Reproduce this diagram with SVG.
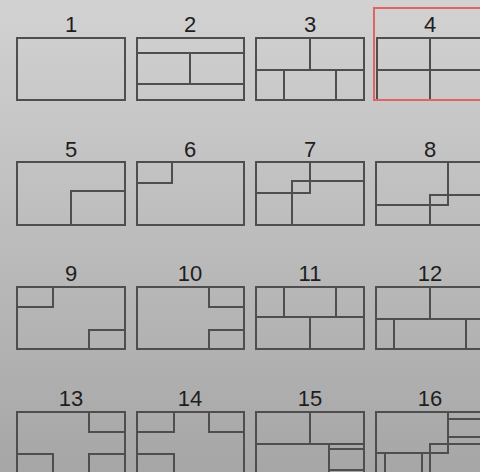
<svg xmlns="http://www.w3.org/2000/svg" width="480" height="472" viewBox="0 0 480 472">
<defs>
<linearGradient id="bg" x1="0" y1="0" x2="0" y2="1">
<stop offset="0" stop-color="#d2d2d2"/>
<stop offset="1" stop-color="#a6a6a6"/>
</linearGradient>
</defs>
<style>
.b{fill:none;stroke:#4e4e4e;stroke-width:2}
.l{fill:none;stroke:#4e4e4e;stroke-width:2}
.t{font-family:"Liberation Sans",Arial,sans-serif;font-size:22px;fill:#1e1e1e;text-anchor:middle}
.sel{fill:none;stroke:#e06464;stroke-width:2}
</style>
<rect width="480" height="472" fill="url(#bg)"/>
<g id="layout-1">
<text class="t" x="71" y="32">1</text>
<rect class="b" x="17" y="38" width="108" height="62"/>
</g>
<g id="layout-2">
<text class="t" x="190" y="32">2</text>
<rect class="b" x="137" y="38" width="107" height="62"/>
<path class="l" d="M137 53H244M137 84H244M190 53V84"/>
</g>
<g id="layout-3">
<text class="t" x="310" y="32">3</text>
<rect class="b" x="256" y="38" width="108" height="62"/>
<path class="l" d="M256 70H364M310 38V70M284 70V100M336 70V100"/>
</g>
<g id="layout-4">
<rect class="sel" x="374" y="8" width="112" height="92"/>
<text class="t" x="430" y="32">4</text>
<rect class="b" x="377" y="38" width="108" height="62"/>
<path class="l" d="M377 70H485M430 38V100"/>
<path class="sel" d="M374 100H486"/>
</g>
<g id="layout-5">
<text class="t" x="71" y="157">5</text>
<rect class="b" x="17" y="162" width="108" height="63"/>
<path class="l" d="M71 225V191H125"/>
</g>
<g id="layout-6">
<text class="t" x="190" y="157">6</text>
<rect class="b" x="137" y="162" width="107" height="63"/>
<path class="l" d="M172 162V183H137"/>
</g>
<g id="layout-7">
<text class="t" x="310" y="157">7</text>
<rect class="b" x="256" y="162" width="108" height="63"/>
<path class="l" d="M310 162V193H256M292 225V181H364"/>
</g>
<g id="layout-8">
<text class="t" x="430" y="157">8</text>
<rect class="b" x="376" y="162" width="108" height="63"/>
<path class="l" d="M448 162V205H376M430 225V195H484"/>
</g>
<g id="layout-9">
<text class="t" x="71" y="281">9</text>
<rect class="b" x="17" y="287" width="108" height="62"/>
<path class="l" d="M53 287V307H17M89 349V330H125"/>
</g>
<g id="layout-10">
<text class="t" x="190" y="281">10</text>
<rect class="b" x="137" y="287" width="107" height="62"/>
<path class="l" d="M209 287V307H244M209 349V330H244"/>
</g>
<g id="layout-11">
<text class="t" x="310" y="281">11</text>
<rect class="b" x="256" y="287" width="108" height="62"/>
<path class="l" d="M256 317H364M284 287V317M336 287V317M310 317V349"/>
</g>
<g id="layout-12">
<text class="t" x="430" y="281">12</text>
<rect class="b" x="376" y="287" width="108" height="62"/>
<path class="l" d="M376 319H484M430 287V319M394 319V349M466 319V349"/>
</g>
<g id="layout-13">
<text class="t" x="71" y="406">13</text>
<rect class="b" x="17" y="412" width="108" height="62"/>
<path class="l" d="M89 412V432H125M17 454H53V474M125 454H89V474"/>
</g>
<g id="layout-14">
<text class="t" x="190" y="406">14</text>
<rect class="b" x="137" y="412" width="107" height="62"/>
<path class="l" d="M174 412V432H137M209 412V432H244M137 454H174V474"/>
</g>
<g id="layout-15">
<text class="t" x="310" y="406">15</text>
<rect class="b" x="256" y="412" width="108" height="62"/>
<path class="l" d="M256 444H364M310 412V444M329 444V474M329 449H364M329 470H364"/>
</g>
<g id="layout-16">
<text class="t" x="430" y="406">16</text>
<rect class="b" x="376" y="412" width="108" height="62"/>
<path class="l" d="M448 412V453H376M448 419H484M448 437H484M430 474V444H484M385 453V474M422 453V474"/>
</g>
</svg>
